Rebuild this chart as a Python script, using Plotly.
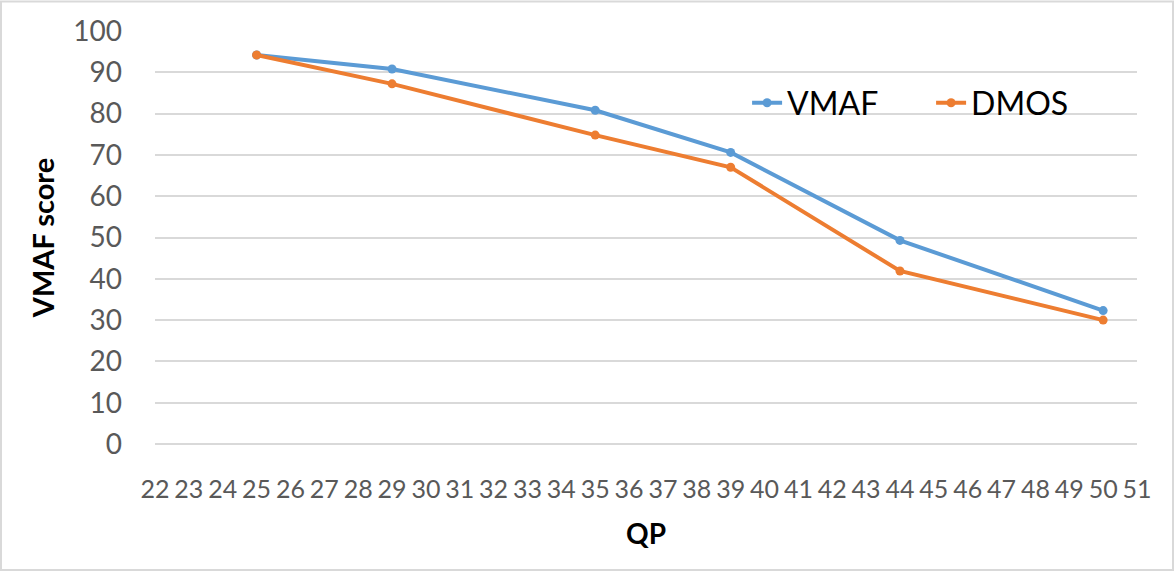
import plotly.graph_objects as go

qp = [25, 29, 35, 39, 44, 50]
vmaf = [94.2, 90.8, 80.8, 70.6, 49.3, 32.3]
dmos = [94.2, 87.2, 74.8, 67.0, 41.9, 30.0]
x_ticks = list(range(22, 52))
y_ticks = list(range(0, 101, 10))

FONT = "Lato"
W, H = 1176, 572
L, R, T, B = 155, 39, 31, 128
pw, ph = W - L - R, H - T - B

fig = go.Figure()
fig.add_trace(go.Scatter(x=qp, y=vmaf, name="VMAF", mode="lines+markers",
                         line=dict(color="#5B9BD5", width=4),
                         marker=dict(color="#5B9BD5", size=9)))
fig.add_trace(go.Scatter(x=qp, y=dmos, name="DMOS", mode="lines+markers",
                         line=dict(color="#ED7D31", width=4),
                         marker=dict(color="#ED7D31", size=9)))

fig.update_layout(
    width=W, height=H,
    margin=dict(l=L, r=R, t=T, b=B, pad=0),
    paper_bgcolor="white", plot_bgcolor="white",
    font=dict(family=FONT, color="#595959"),
    showlegend=True,
    legend=dict(orientation="h", x=(752 - 155) / pw - 0.005, y=(444 - 103) / ph,
                xanchor="left", yanchor="middle",
                font=dict(family=FONT, size=32, color="#000000"),
                bgcolor="rgba(0,0,0,0)", entrywidth=139, tracegroupgap=0),
    xaxis=dict(range=[22, 51], tickmode="array", tickvals=x_ticks,
               ticktext=[str(v) for v in x_ticks],
               showgrid=False, zeroline=False, showline=False,
               tickfont=dict(family=FONT, size=25, color="#595959"),
               ticks="", ticklabelstandoff=28,
               title=dict(text="<b>QP</b>", font=dict(family=FONT, size=28, color="#000000"),
                          standoff=22)),
    yaxis=dict(range=[0, 100], tickmode="array", tickvals=y_ticks,
               showgrid=True, gridcolor="#D9D9D9", gridwidth=1.5,
               zeroline=True, zerolinecolor="#D9D9D9", zerolinewidth=1.5,
               showline=False, ticks="", ticklabelstandoff=32,
               tickfont=dict(family=FONT, size=28, color="#595959"),
               title=dict(text="<b>VMAF score</b>", font=dict(family=FONT, size=29, color="#000000"),
                          standoff=10)),
)

fig.add_shape(type="rect", xref="paper", yref="paper",
              x0=(1 - L) / pw, x1=(1173 - L) / pw,
              y0=(H - 570 - B) / ph, y1=(H - 1.5 - B) / ph,
              line=dict(color="#D9D9D9", width=2), fillcolor="rgba(0,0,0,0)", layer="below")

fig.write_html("out.html")
